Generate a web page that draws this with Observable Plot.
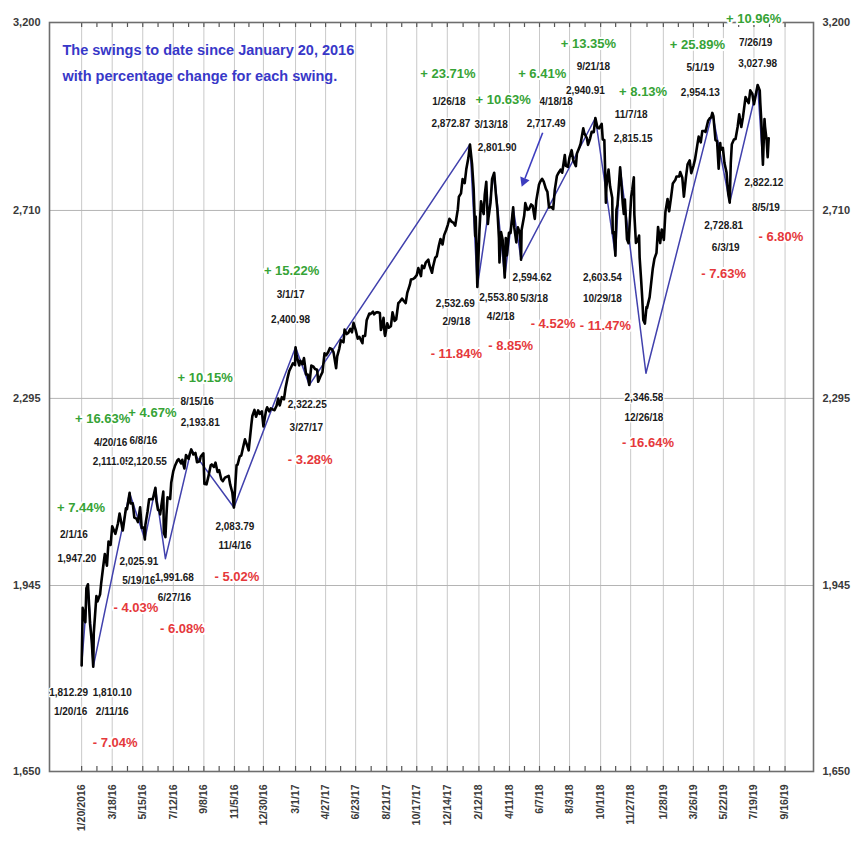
<!DOCTYPE html>
<html><head><meta charset="utf-8">
<script src="https://cdn.jsdelivr.net/npm/d3@7"></script>
<script src="https://cdn.jsdelivr.net/npm/@observablehq/plot@0.6"></script>
<style>body{margin:0;background:#fff;}</style>
</head><body><div id="chart"></div>
<script>
// ---------- DATA ----------
const priceDates = [
"2016-01-20","2016-01-22","2016-01-27","2016-01-29","2016-02-01","2016-02-05","2016-02-08","2016-02-11","2016-02-12","2016-02-17","2016-02-19","2016-02-24","2016-02-26","2016-03-01","2016-03-04","2016-03-08","2016-03-11","2016-03-15","2016-03-18","2016-03-24","2016-03-29","2016-04-01","2016-04-07","2016-04-08","2016-04-13","2016-04-15","2016-04-20","2016-04-22","2016-04-26","2016-04-29","2016-05-03","2016-05-06","2016-05-10","2016-05-13","2016-05-17","2016-05-19","2016-05-20","2016-05-24","2016-05-27","2016-06-01","2016-06-03","2016-06-08","2016-06-10","2016-06-13","2016-06-16","2016-06-17","2016-06-23","2016-06-24","2016-06-27","2016-06-29","2016-07-01","2016-07-06","2016-07-08","2016-07-12","2016-07-15","2016-07-20","2016-07-22","2016-07-27","2016-07-29","2016-08-02","2016-08-05","2016-08-10","2016-08-12","2016-08-15","2016-08-19","2016-08-23","2016-08-26","2016-08-31","2016-09-02","2016-09-07","2016-09-09","2016-09-13","2016-09-16","2016-09-21","2016-09-23","2016-09-27","2016-09-30","2016-10-04","2016-10-07","2016-10-11","2016-10-14","2016-10-18","2016-10-21","2016-10-25","2016-10-28","2016-11-01","2016-11-04","2016-11-07","2016-11-09","2016-11-11","2016-11-15","2016-11-18","2016-11-23","2016-11-25","2016-11-30","2016-12-02","2016-12-07","2016-12-09","2016-12-13","2016-12-16","2016-12-20","2016-12-23","2016-12-27","2016-12-30",
"2017-01-04","2017-01-06","2017-01-10","2017-01-13","2017-01-18","2017-01-20","2017-01-24","2017-01-27","2017-01-30","2017-02-03","2017-02-07","2017-02-10","2017-02-14","2017-02-17","2017-02-22","2017-02-24","2017-02-28","2017-03-01","2017-03-03","2017-03-08","2017-03-10","2017-03-14","2017-03-17","2017-03-21","2017-03-24","2017-03-27","2017-03-31","2017-04-04","2017-04-07","2017-04-11","2017-04-13","2017-04-18","2017-04-21","2017-04-25","2017-04-28","2017-05-02","2017-05-05","2017-05-09","2017-05-12","2017-05-17","2017-05-19","2017-05-23","2017-05-26","2017-05-31","2017-06-02","2017-06-06","2017-06-09","2017-06-13","2017-06-16","2017-06-19","2017-06-23","2017-06-27","2017-06-30","2017-07-06","2017-07-07","2017-07-11","2017-07-14","2017-07-19","2017-07-21","2017-07-26","2017-07-28","2017-08-01","2017-08-04","2017-08-08","2017-08-10","2017-08-11","2017-08-15","2017-08-17","2017-08-18","2017-08-22","2017-08-25","2017-08-29","2017-09-01","2017-09-05","2017-09-08","2017-09-12","2017-09-15","2017-09-19","2017-09-22","2017-09-26","2017-09-29","2017-10-04","2017-10-06","2017-10-10","2017-10-13","2017-10-17","2017-10-20","2017-10-25","2017-10-27","2017-10-31","2017-11-03","2017-11-08","2017-11-10","2017-11-15","2017-11-17","2017-11-21","2017-11-24","2017-11-28","2017-12-01","2017-12-05","2017-12-08","2017-12-12","2017-12-15","2017-12-18","2017-12-22","2017-12-26","2017-12-29",
"2018-01-03","2018-01-05","2018-01-09","2018-01-12","2018-01-16","2018-01-19","2018-01-23","2018-01-26","2018-01-30","2018-02-02","2018-02-05","2018-02-06","2018-02-08","2018-02-09","2018-02-13","2018-02-16","2018-02-21","2018-02-23","2018-02-26","2018-03-01","2018-03-02","2018-03-06","2018-03-09","2018-03-13","2018-03-16","2018-03-19","2018-03-22","2018-03-23","2018-03-26","2018-03-29","2018-04-02","2018-04-04","2018-04-06","2018-04-10","2018-04-13","2018-04-18","2018-04-20","2018-04-24","2018-04-27","2018-05-01","2018-05-03","2018-05-04","2018-05-09","2018-05-11","2018-05-15","2018-05-18","2018-05-22","2018-05-25","2018-05-29","2018-06-01","2018-06-06","2018-06-08","2018-06-12","2018-06-15","2018-06-19","2018-06-22","2018-06-25","2018-06-29","2018-07-03","2018-07-06","2018-07-10","2018-07-13","2018-07-17","2018-07-20","2018-07-25","2018-07-27","2018-07-31","2018-08-03","2018-08-07","2018-08-10","2018-08-15","2018-08-17","2018-08-21","2018-08-24","2018-08-29","2018-08-31","2018-09-05","2018-09-07","2018-09-11","2018-09-14","2018-09-18","2018-09-21","2018-09-25","2018-09-28","2018-10-03","2018-10-05","2018-10-08","2018-10-10","2018-10-11","2018-10-12","2018-10-16","2018-10-19","2018-10-23","2018-10-24","2018-10-26","2018-10-29","2018-10-31","2018-11-02","2018-11-07","2018-11-09","2018-11-12","2018-11-14","2018-11-16","2018-11-20","2018-11-23","2018-11-28","2018-11-30","2018-12-03","2018-12-04","2018-12-07","2018-12-10","2018-12-13","2018-12-14","2018-12-17","2018-12-19","2018-12-21","2018-12-24","2018-12-27","2018-12-28",
"2019-01-02","2019-01-04","2019-01-08","2019-01-11","2019-01-15","2019-01-18","2019-01-22","2019-01-25","2019-01-29","2019-02-01","2019-02-05","2019-02-08","2019-02-12","2019-02-15","2019-02-20","2019-02-22","2019-02-27","2019-03-01","2019-03-05","2019-03-08","2019-03-12","2019-03-15","2019-03-19","2019-03-22","2019-03-26","2019-03-29","2019-04-02","2019-04-05","2019-04-09","2019-04-12","2019-04-16","2019-04-18","2019-04-23","2019-04-26","2019-04-29","2019-05-01","2019-05-03","2019-05-07","2019-05-10","2019-05-13","2019-05-16","2019-05-17","2019-05-21","2019-05-24","2019-05-28","2019-05-31","2019-06-03","2019-06-05","2019-06-07","2019-06-11","2019-06-14","2019-06-18","2019-06-21","2019-06-25","2019-06-28","2019-07-03","2019-07-05","2019-07-09","2019-07-12","2019-07-16","2019-07-19","2019-07-23","2019-07-26","2019-07-30","2019-07-31","2019-08-02","2019-08-05","2019-08-08","2019-08-09","2019-08-12","2019-08-14","2019-08-16"
];
const priceValues = [
1812.29,1906.90,1882.95,1940.24,1947.20,1880.05,1853.44,1810.10,1864.78,1926.82,1917.78,1929.80,1948.05,1978.35,1999.99,1979.26,2022.19,2015.93,2049.58,2035.94,2055.01,2072.78,2041.91,2047.60,2082.42,2080.73,2111.05,2091.58,2091.70,2065.30,2063.37,2057.14,2084.39,2046.61,2047.21,2025.91,2052.32,2076.06,2099.06,2099.33,2099.13,2120.55,2096.07,2079.06,2077.99,2071.22,2113.32,2037.41,2030.00,2070.77,2102.95,2099.73,2129.90,2152.14,2161.74,2173.02,2175.03,2166.58,2173.60,2157.03,2182.87,2175.49,2184.05,2193.81,2183.87,2186.90,2169.04,2170.95,2179.98,2186.16,2127.81,2127.02,2139.16,2163.12,2164.69,2159.93,2168.27,2150.49,2153.74,2136.73,2132.98,2139.60,2141.16,2143.16,2126.41,2111.72,2083.79,2131.52,2163.26,2164.45,2180.39,2181.90,2204.72,2213.35,2198.81,2191.95,2241.35,2259.53,2271.72,2258.07,2270.76,2263.79,2268.88,2238.83,
2270.75,2276.98,2268.90,2274.64,2271.89,2271.31,2280.07,2294.69,2280.90,2297.42,2293.08,2316.10,2337.58,2351.16,2362.82,2367.34,2363.64,2400.98,2383.12,2362.98,2372.60,2365.45,2378.25,2344.02,2343.98,2322.25,2362.72,2360.16,2355.54,2353.78,2328.95,2342.19,2348.69,2388.61,2384.20,2391.17,2399.29,2396.92,2390.90,2357.03,2381.73,2398.42,2415.82,2411.80,2439.07,2429.33,2431.77,2440.35,2433.15,2453.46,2438.30,2419.38,2423.41,2409.75,2425.18,2425.53,2459.27,2473.83,2472.54,2477.83,2472.10,2476.35,2476.83,2474.92,2438.21,2441.32,2464.61,2430.01,2425.55,2452.51,2443.05,2446.30,2476.55,2457.85,2461.43,2496.48,2500.23,2506.65,2502.22,2496.84,2519.36,2537.74,2549.33,2550.64,2553.17,2559.36,2575.21,2557.15,2581.07,2575.26,2587.84,2594.38,2582.30,2564.62,2578.85,2599.03,2602.42,2627.04,2642.22,2629.57,2651.50,2664.11,2675.81,2690.16,2683.34,2680.50,2673.61,
2713.06,2743.15,2751.29,2786.24,2776.42,2810.30,2839.13,2872.87,2822.43,2762.13,2648.94,2695.14,2581.00,2532.69,2662.94,2732.22,2701.33,2747.30,2779.60,2677.67,2691.25,2728.12,2786.57,2801.90,2752.01,2712.92,2643.69,2588.26,2658.55,2640.87,2553.80,2644.69,2604.47,2656.87,2656.30,2717.49,2670.14,2634.56,2669.91,2654.80,2594.62,2663.42,2697.79,2727.72,2711.45,2712.97,2724.44,2721.33,2689.86,2734.62,2772.35,2779.03,2786.85,2779.66,2762.59,2754.88,2717.07,2718.37,2713.22,2759.82,2793.84,2801.31,2809.55,2801.83,2846.07,2818.82,2816.29,2840.35,2858.45,2833.28,2818.37,2850.13,2862.96,2874.69,2914.04,2901.52,2888.60,2871.68,2887.89,2904.98,2904.31,2940.91,2915.56,2913.98,2925.51,2885.57,2884.43,2785.68,2728.37,2767.13,2809.92,2767.78,2740.69,2656.10,2658.69,2603.54,2711.74,2723.06,2815.15,2781.01,2726.22,2701.58,2736.27,2641.89,2632.56,2743.79,2760.17,2790.37,2700.06,2633.08,2637.72,2650.54,2599.95,2545.94,2506.96,2460.00,2452.00,2488.00,2485.74,
2510.03,2531.94,2574.41,2596.26,2610.30,2670.71,2632.90,2664.76,2640.00,2706.53,2737.70,2707.88,2744.73,2775.60,2784.70,2792.67,2792.38,2803.69,2789.65,2743.07,2791.52,2822.48,2832.57,2800.71,2818.46,2834.40,2867.24,2892.74,2878.20,2907.41,2907.06,2905.03,2933.68,2939.88,2943.03,2954.13,2945.64,2884.05,2881.40,2811.87,2876.32,2859.53,2864.36,2826.06,2802.39,2752.06,2728.81,2826.15,2873.34,2885.72,2886.98,2917.75,2950.46,2917.38,2941.76,2995.82,2990.41,2979.63,3013.77,3004.04,2976.61,3005.47,3027.98,3013.18,2980.38,2932.05,2822.12,2938.09,2918.65,2883.09,2840.60,2888.68
];

const swingDates = ["2016-01-20","2016-02-01","2016-02-11","2016-04-20","2016-05-19","2016-06-08","2016-06-27","2016-08-15","2016-11-04","2017-03-01","2017-03-27","2018-01-26","2018-02-09","2018-03-13","2018-04-02","2018-04-18","2018-05-03","2018-09-21","2018-10-29","2018-11-07","2018-12-26","2019-05-01","2019-06-03","2019-07-26","2019-08-05"];
const swingValues = [1812.29,1947.20,1810.10,2111.05,2025.91,2120.55,1991.68,2193.81,2083.79,2400.98,2322.25,2872.87,2532.69,2801.90,2553.80,2717.49,2594.62,2940.91,2603.54,2815.15,2346.58,2954.13,2728.81,3027.98,2822.12];
const swingPct = [null,7.44,-7.04,16.63,-4.03,4.67,-6.08,10.15,-5.02,15.22,-3.28,23.71,-11.84,10.63,-8.85,6.41,-4.52,13.35,-11.47,8.13,-16.64,25.89,-7.63,10.96,-6.80];

const xTickLabels = ["1/20/2016","3/18/16","5/15/16","7/12/16","9/8/16","11/5/16","12/30/16","3/1/17","4/27/17","6/23/17","8/21/17","10/17/17","12/14/17","2/12/18","4/11/18","6/7/18","8/3/18","10/1/18","11/27/18","1/28/19","3/26/19","5/22/19","7/19/19","9/16/19"];
const yTicks = [1650,1945,2295,2710,3200];
const titleLines = ["The swings to date since January 20, 2016","with percentage change for each swing."];
const arrowSwing = "2018-04-18";

// ---------- LAYOUT (pixel offsets of the three labels of each swing: pct, date, value) ----------
const labelOffsets = [
[0,0,-11,46,-13,27],[-7,-76,-14,-49,-11,-25],[22,76,19,45,19,26],[-27,-74,-19,-50,-18,-31],
[-9,68,-6,41,-6,22],[-3,-75,-12,-47,-8,-26],[17,70,9,39,9,19],[14,-72,6,-48,9,-27],
[3,69,1,38,1,19],[-4,-77,-5,-53,-5,-28],[1,75,-3,43,-2,20],[-22,-71,-21,-43,-19,-21],
[-21,67,-21,35,-22,17],[9,-73,-3,-48,3,-25],[6,68,-4,39,-6,20],[29,-133,43,-106,33,-84],
[32,64,13,39,11,18],[-7,-74,-2,-51,-10,-27],[-10,70,-13,43,-13,22],[23,-76,11,-53,13,-29],
[2,70,-2,45,-2,25],[-15,-68,-12,-45,-12,-20],[-6,71,-4,45,-6,23],[-4,-66,-2,-42,0,-21],
[18,72,3,43,1,18]
];

// ---------- BUILD ----------
const parse = d3.utcParse("%Y-%m-%d");
const prices = priceDates.map((d, i) => ({date: parse(d), value: priceValues[i]}));
const swings = swingDates.map((d, i) => ({date: parse(d), value: swingValues[i], pct: swingPct[i]}));
const tickDates = xTickLabels.map(s => (s.split("/")[2].length === 4 ? d3.utcParse("%m/%d/%Y") : d3.utcParse("%m/%d/%y"))(s));
const tickLabelMap = new Map(tickDates.map((d, i) => [+d, xTickLabels[i]]));
const minorTicks = [];
tickDates.forEach((d, i) => { minorTicks.push(d); if (i < tickDates.length - 1) minorTicks.push(new Date((+d + +tickDates[i + 1]) / 2)); });

const fmtVal = d3.format(",.2f");
const fmtDate = d3.utcFormat("%-m/%-d/%y");
const fmtPct = v => (v > 0 ? "+ " : "- ") + Math.abs(v).toFixed(2) + "%";

const sans = "'Liberation Sans', Arial, sans-serif";

const frameH = 846 - 22 - 75;

const labelMarks = swings.flatMap((s, i) => {
  const o = labelOffsets[i];
  const small = {x: "date", y: "value", fontSize: 10, fontWeight: "bold", fontFamily: sans, fill: "#1a1a1a", stroke: "white", strokeWidth: 2.5};
  const m = [
    Plot.text([s], {...small, text: d => fmtDate(d.date), dx: o[2], dy: o[3]}),
    Plot.text([s], {...small, text: d => fmtVal(d.value), dx: o[4], dy: o[5]})
  ];
  if (s.pct != null) {
    m.push(Plot.text([s], {x: "date", y: "value", text: d => fmtPct(d.pct), dx: o[0], dy: o[1],
      fontSize: 13, fontWeight: "bold", fontFamily: sans,
      fill: s.pct > 0 ? "#36a336" : "#e5383b", stroke: "white", strokeWidth: 4}));
  }
  return m;
});

const arrowTarget = swings.find(s => +s.date === +parse(arrowSwing));
function arrowMark(index, scales) {
  const x0 = scales.x(arrowTarget.date), y0 = scales.y(arrowTarget.value);
  const x1 = x0 + 30, y1 = y0 - 74, x2 = x0 + 9, y2 = y0 - 20;
  const ang = Math.atan2(y2 - y1, x2 - x1), L = 9, W = 5;
  const bx = x2 - L * Math.cos(ang), by = y2 - L * Math.sin(ang);
  const g = d3.create("svg:g");
  g.append("line").attr("x1", x1).attr("y1", y1).attr("x2", bx).attr("y2", by)
    .attr("stroke", "#3d3dbf").attr("stroke-width", 1.6);
  g.append("path").attr("fill", "#3d3dbf").attr("d",
    `M${x2},${y2}L${bx + W * Math.sin(ang)},${by - W * Math.cos(ang)}L${bx - W * Math.sin(ang)},${by + W * Math.cos(ang)}Z`);
  return g.node();
}

const chart = Plot.plot({
  width: 852, height: 846,
  marginLeft: 49, marginRight: 39, marginTop: 22, marginBottom: 75,
  style: {background: "white", fontFamily: sans},
  x: {type: "utc", domain: [parse("2015-11-20"), parse("2019-11-09")], axis: null},
  y: {type: "log", domain: [1650, 3200], axis: null},
  marks: [
    Plot.gridX(tickDates, {stroke: "#c9c9c9", strokeOpacity: 1, strokeWidth: 1}),
    Plot.gridY(yTicks, {stroke: "#b4b4b4", strokeOpacity: 1, strokeWidth: 1}),
    Plot.ruleX(minorTicks, {x: d => d, insetBottom: frameH - 5, stroke: "#555", strokeWidth: 1.2}),
    Plot.ruleX(minorTicks, {x: d => d, insetTop: frameH - 5, stroke: "#555", strokeWidth: 1.2}),
    Plot.frame({stroke: "#6e6e6e", strokeWidth: 1.6}),
    Plot.axisX(tickDates, {anchor: "bottom", label: null, tickRotate: -90, tickSize: 0, tickPadding: 13,
      tickFormat: d => tickLabelMap.get(+d), fontSize: 10.5, fontWeight: "bold", fontFamily: sans, fill: "#3a3a3a"}),
    Plot.axisY(yTicks, {anchor: "left", label: null, tickSize: 0, tickPadding: 9, tickFormat: d3.format(","),
      fontSize: 11, fontWeight: "bold", fontFamily: sans, fill: "#3a3a3a"}),
    Plot.axisY(yTicks, {anchor: "right", label: null, tickSize: 0, tickPadding: 9, tickFormat: d3.format(","),
      fontSize: 11, fontWeight: "bold", fontFamily: sans, fill: "#3a3a3a"}),
    Plot.line(swings, {x: "date", y: "value", stroke: "#4141ad", strokeWidth: 1.5}),
    Plot.line(prices, {x: "date", y: "value", stroke: "#000", strokeWidth: 2.6, strokeLinejoin: "round"}),
    Plot.text([titleLines[0]], {frameAnchor: "top-left", dx: 13, dy: 28, lineAnchor: "middle", text: d => d,
      fontSize: 14.5, fontWeight: "bold", fill: "#3838c8", fontFamily: sans}),
    Plot.text([titleLines[1]], {frameAnchor: "top-left", dx: 13, dy: 54, lineAnchor: "middle", text: d => d,
      fontSize: 14.5, fontWeight: "bold", fill: "#3838c8", fontFamily: sans}),
    ...labelMarks,
    arrowMark
  ]
});
document.getElementById("chart").append(chart);
</script>
</body></html>
